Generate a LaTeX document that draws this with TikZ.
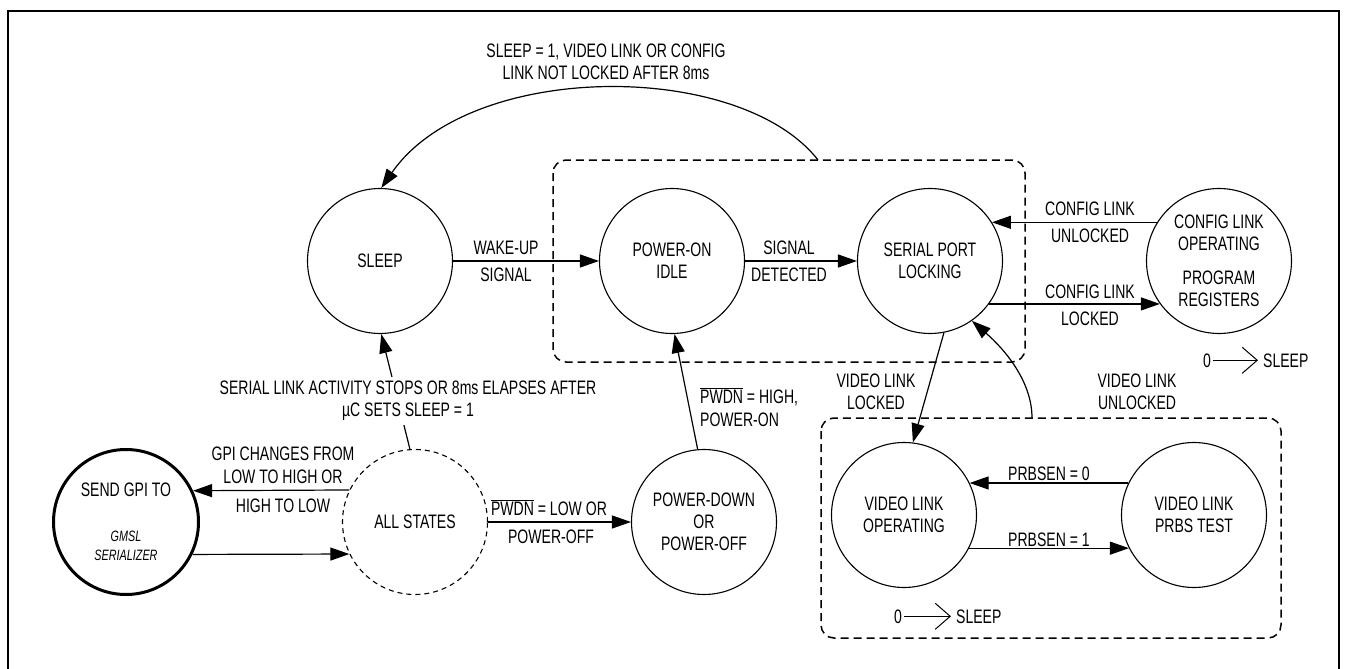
\documentclass[tikz,border=0pt]{standalone}
\usepackage{fontspec}
\setmainfont{Liberation Sans}[FakeStretch=0.72]
\usetikzlibrary{arrows.meta}
\newcommand{\ovl}[1]{$\overline{\mbox{#1}}$}
\begin{document}
\begin{tikzpicture}[x=1pt,y=-1pt,
  txt/.style={font=\fontsize{19.5}{22}\selectfont},
  state/.style={circle, draw, line width=1.1pt, minimum size=145pt, inner sep=0pt, align=center, txt},
  lbl/.style={anchor=base, inner sep=0pt, txt},
  conn/.style={line width=1.2pt, -{Triangle[length=19pt,width=13pt]}},
  zarrow/.style={line width=1pt, -{Straight Barb[length=15pt,width=26pt]}, shorten <=2pt, shorten >=5pt},
  grp/.style={draw, dash pattern=on 8pt off 5pt, line width=1.5pt, rounded corners=13pt},
  small/.style={font=\fontsize{15}{18}\selectfont\itshape}]
\useasboundingbox (0,0) rectangle (1353,669);
% frame
\draw[line width=2pt] (8,669) -- (8,11) -- (1339,11) -- (1339,669);
% groups
\draw[grp] (553,160) rectangle (1025,362);
\draw[grp] (821,418) rectangle (1281,638);
\coordinate (c1) at (818,160);
\coordinate (c2) at (1032,418);
% states
\node[state] (sleep) at (380,261) {SLEEP};
\node[state] (pon) at (672,261) {POWER-ON\\IDLE};
\node[state] (spl) at (930,261) {SERIAL PORT\\LOCKING};
\node[state] (cfg) at (1219,261) {CONFIG LINK\\OPERATING\\[12pt]PROGRAM\\REGISTERS};
\node[state, line width=3pt] (send) at (126,522) {SEND GPI TO\\[23pt]{\fontsize{15}{18}\selectfont\itshape GMSL}\\[-3pt]{\fontsize{15}{18}\selectfont\itshape SERIALIZER}};
\node[state, dash pattern=on 5pt off 4pt] (all) at (415,522) {ALL STATES};
\node[state] (pdn) at (704,522) {POWER-DOWN\\OR\\POWER-OFF};
\node[state] (vop) at (904,515) {VIDEO LINK\\OPERATING};
\node[state] (vpr) at (1194,515) {VIDEO LINK\\PRBS TEST};
% connectors
\draw[conn] (c1) .. controls (740,60) and (470,60) .. (sleep.89);
\draw[conn] (sleep.east) -- (pon.west);
\draw[conn] (pon.east) -- (spl.west);
\draw[conn] (cfg.148) -- (spl.32);
\draw[conn] (spl.-36) -- (cfg.216);
\draw[conn] (all.94) -- (sleep.-89);
\draw[conn] (pdn.95) -- (pon.-88);
\draw[conn] (all.east) -- (pdn.west);
\draw[conn] (all.154.5) -- (send.25);
\draw[conn] (send.-26) -- (all.206);
\draw[conn] (spl.-79) -- (vop.83);
\draw[conn] (c2) .. controls (1032,380) and (1003,348) .. (spl.-55);
\draw[conn] (vpr.154) -- (vop.26);
\draw[conn] (vop.-27) -- (vpr.207);
% labels
\node[lbl] (t1) at (606,58) {SLEEP = 1, VIDEO LINK OR CONFIG};
\node[lbl] (t2) at (606,80) {LINK NOT LOCKED AFTER 8ms};
\node[lbl] (w1) at (506,254) {WAKE-UP};
\node[lbl] (w2) at (506,281) {SIGNAL};
\node[lbl] (d1) at (789,254) {SIGNAL};
\node[lbl] (d2) at (789,281) {DETECTED};
\node[lbl] (u1) at (1090,215) {CONFIG LINK};
\node[lbl] (u2) at (1090,242) {UNLOCKED};
\node[lbl] (l1) at (1090,298) {CONFIG LINK};
\node[lbl] (l2) at (1090,325) {LOCKED};
\node[txt, align=center, fill=white, inner xsep=2pt, inner ysep=4pt] (sl) at (408,401) {SERIAL LINK ACTIVITY STOPS OR 8ms ELAPSES AFTER\\µC SETS SLEEP = 1};
\node[lbl] (g1) at (283,460) {GPI CHANGES FROM};
\node[lbl] (g2) at (283,483) {LOW TO HIGH OR};
\node[lbl] (g3) at (283,512) {HIGH TO LOW};
\node[lbl] (p1) at (549,515) {\ovl{PWDN} = LOW OR};
\node[lbl] (p2) at (551,543) {POWER-OFF};
\node[lbl, anchor=base west] (h1) at (700,403) {\ovl{PWDN} = HIGH,};
\node[lbl, anchor=base west] (h2) at (700,426) {POWER-ON};
\node[lbl] (v1) at (876,387) {VIDEO LINK};
\node[lbl] (v2) at (876,409) {LOCKED};
\node[lbl] (n1) at (1137,387) {VIDEO LINK};
\node[lbl] (n2) at (1137,409) {UNLOCKED};
\node[lbl] (r0) at (1049,480) {PRBSEN = 0};
\node[lbl] (r1) at (1049,546) {PRBSEN = 1};
% 0 -> SLEEP
\node[lbl] (z1) at (1207,367) {0};
\node[lbl, anchor=base west] (s1) at (1263,367) {SLEEP};
\draw[zarrow] (z1.east) -- (s1.west);
\node[lbl] (z2) at (898,623) {0};
\node[lbl, anchor=base west] (s2) at (956,623) {SLEEP};
\draw[zarrow] (z2.east) -- (s2.west);
\end{tikzpicture}
\end{document}
